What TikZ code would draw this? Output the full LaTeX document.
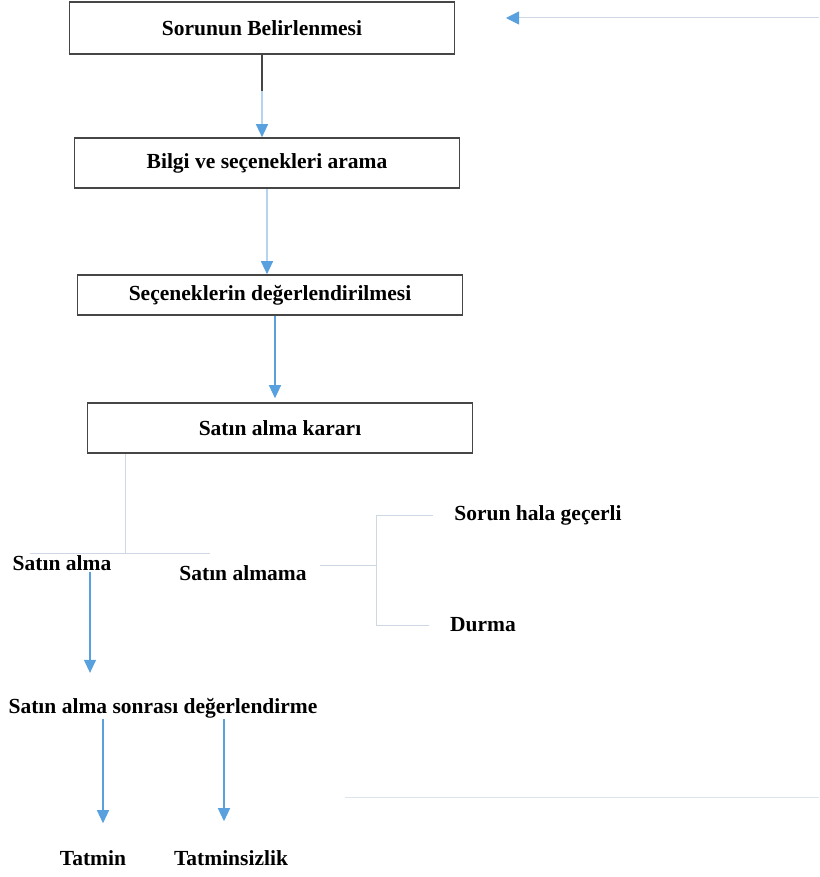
\documentclass[tikz,border=0pt]{standalone}
\usepackage{fontspec}
\setmainfont{Liberation Serif}
\usetikzlibrary{arrows.meta, positioning}

\definecolor{arrowblue}{RGB}{88,160,222}
\definecolor{faintline}{RGB}{205,216,228}
\definecolor{boxgrey}{RGB}{70,70,70}

\begin{document}
\begin{tikzpicture}[x=1pt, y=-1pt, font=\fontsize{21.5}{24}\selectfont\bfseries]
    \tikzstyle{stepbox} = [rectangle, draw=boxgrey, line width=1.6pt, minimum width=385pt, minimum height=50pt, inner sep=0pt]
    \tikzstyle{lbl} = [inner sep=1pt]
    \tikzstyle{arrow} = [draw=arrowblue, line width=1.2pt, -{Triangle[width=12pt, length=13pt, color=arrowblue]}]
    \tikzstyle{faint} = [draw=faintline, line width=1pt]
    \useasboundingbox (0,0) rectangle (819,877);
    % boxes
    \node (sorun) [stepbox, minimum height=52pt] at (262,28) {Sorunun Belirlenmesi};
    \node (bilgi) [stepbox] at (267,163) {Bilgi ve seçenekleri arama};
    \node (secenek) [stepbox, minimum height=40pt] at (270,295) {Seçeneklerin değerlendirilmesi};
    \node (karar) [stepbox] at (280,428) {Satın alma kararı};
    % labels
    \node (alma) [lbl] at (62,563) {Satın alma};
    \node (almama) [lbl] at (243,573) {Satın almama};
    \node (gecerli) [lbl] at (538,515) {Sorun hala geçerli};
    \node (durma) [lbl] at (483,625) {Durma};
    \node (sonra) [lbl] at (163,708) {Satın alma sonrası değerlendirme};
    \node (tatmin) [lbl] at (93,858) {Tatmin};
    \node (tatminsiz) [lbl] at (231,858) {Tatminsizlik};
    % free ends
    \coordinate (split) at (125,553);
    \coordinate (fork) at (376,565);
    \coordinate (back) at (520,18);
    \coordinate (backend) at (819,18);
    % main chain
    \draw [arrow, draw=arrowblue!45] (sorun.south) -- (sorun.south |- bilgi.north);
    \draw [boxgrey, line width=1.2pt] (sorun.south) -- ++(0,36);
    \draw [arrow, draw=arrowblue!45] (bilgi.south) -- (bilgi.south |- secenek.north);
    \draw [arrow] ([xshift=5pt]secenek.south) -- ([xshift=5pt, yshift=4pt]secenek.south |- karar.north);
    \draw [faint, {Triangle[width=13pt, length=13pt, color=arrowblue]}-] ([xshift=-14pt]back) -- (backend);
    % decision branches
    \draw [faint] (karar.south -| split) -- (split);
    \draw [faint] (split -| 30,0) -- (split -| 210,0);
    \draw [faint] ([xshift=12pt]almama.east |- fork) -- (fork);
    \draw [faint] (fork |- gecerli) -- (fork |- durma);
    \draw [faint] (fork |- gecerli) -- ([xshift=-20pt]gecerli.west);
    \draw [faint] (fork |- durma) -- ([xshift=-20pt]durma.west);
    % outcome arrows
    \draw [arrow] (alma.south -| 90,0) -- ([yshift=24pt]sonra.north -| 90,0);
    \draw [arrow] (sonra.south -| 103,0) -- ([yshift=26pt]tatmin.north -| 103,0);
    \draw [arrow] (sonra.south -| 224,0) -- ([yshift=28pt]tatminsiz.north -| 224,0);
    \draw [faint, draw=faintline!70] (345,797) -- (819,797);
\end{tikzpicture}
\end{document}
